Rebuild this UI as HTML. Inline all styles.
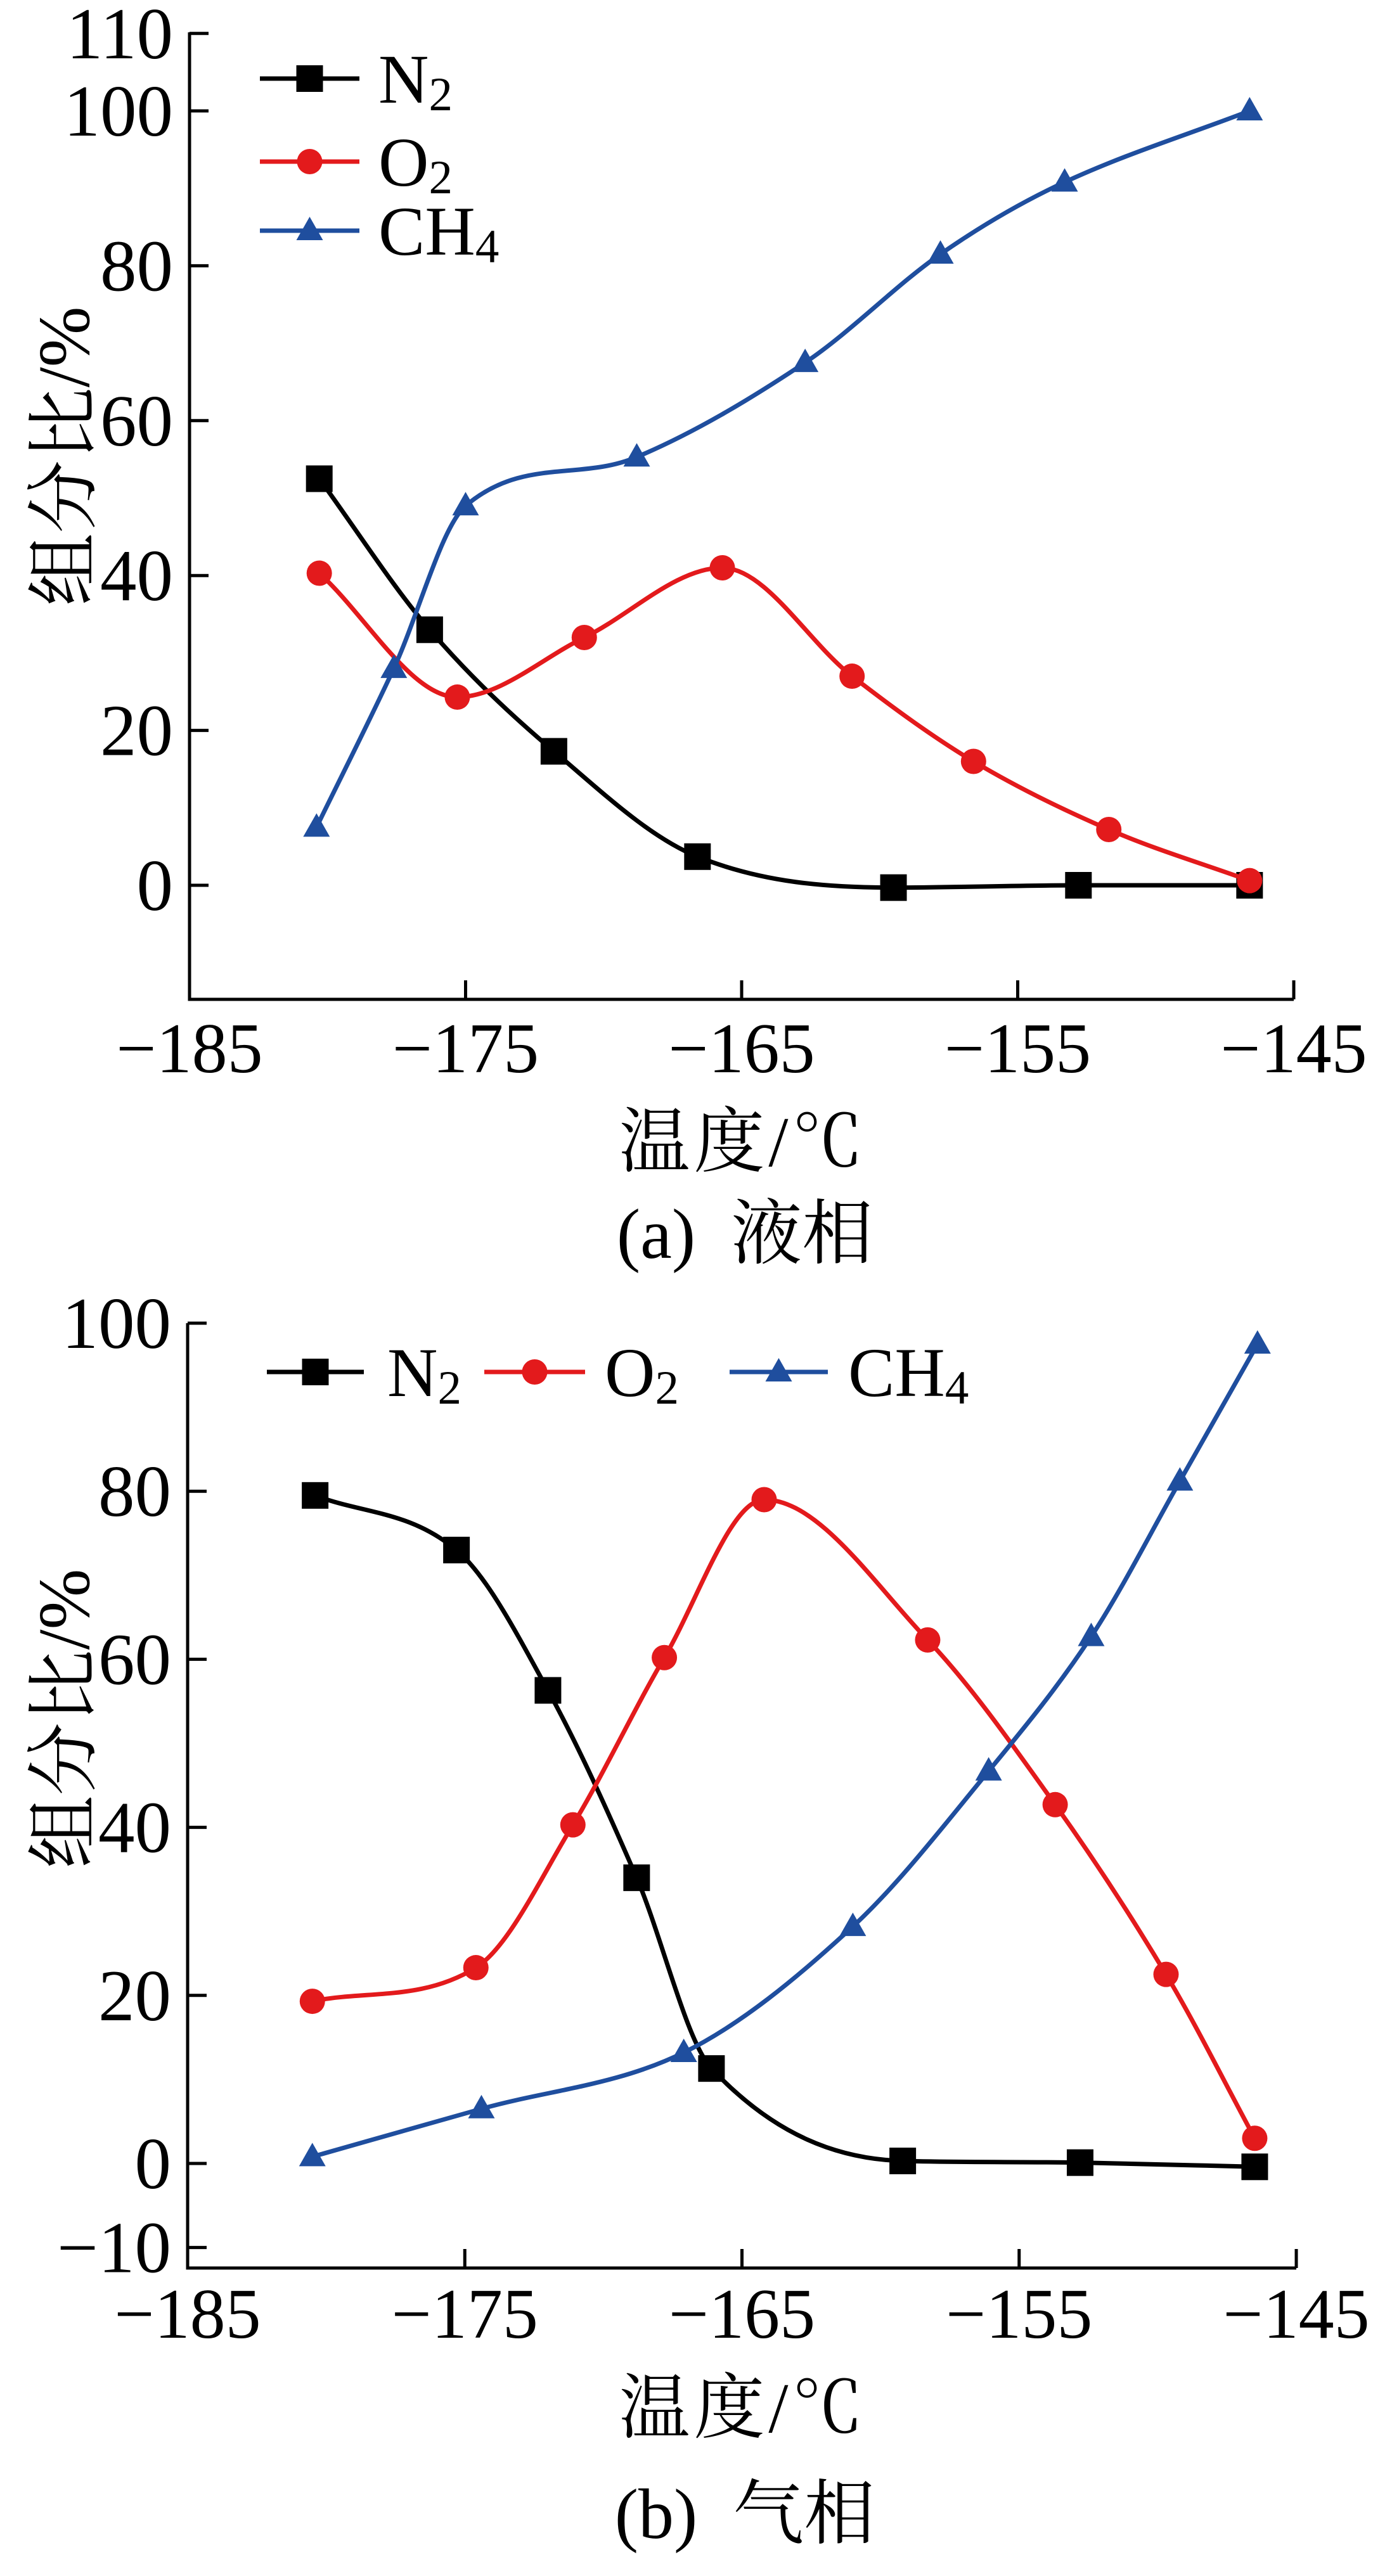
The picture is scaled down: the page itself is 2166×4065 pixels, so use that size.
<!DOCTYPE html>
<html><head><meta charset="utf-8"><style>
html,body{margin:0;padding:0;background:#fff;}
svg{display:block;}
text{font-family:"Liberation Serif","Noto Serif CJK SC","Noto Sans CJK SC",serif;fill:#000;}
</style></head><body>
<svg id="svg" width="2166" height="4065" viewBox="0 0 2166 4065" xmlns="http://www.w3.org/2000/svg"></svg>
<script>
// Chart (a) liquid phase data
const aN2x=[-180.3,-176.3,-171.8,-166.6,-159.5,-152.8,-146.6];
const aN2y=[52.5,33,17.3,3.7,-0.3,0,0];
const aO2x=[-180.3,-175.3,-170.7,-165.7,-161,-156.6,-151.7,-146.6];
const aO2y=[40.3,24.3,32,41,27,16,7.2,0.6];
const aCH4x=[-180.4,-177.6,-175,-168.8,-162.7,-157.8,-153.3,-146.6];
const aCH4y=[7.5,28,49,55.3,67.5,81.5,90.8,100];
const aYTicks=[0,20,40,60,80,100,110];
// Chart (b) vapor phase data
const bN2x=[-180.4,-175.3,-172,-168.8,-166.1,-159.2,-152.8,-146.5];
const bN2y=[79.5,73,56.3,34,11.3,0.3,0.1,-0.4];
const bO2x=[-180.5,-174.6,-171.1,-167.8,-164.2,-158.3,-153.7,-149.7,-146.5];
const bO2y=[19.3,23.3,40.3,60.2,79,62.3,42.7,22.5,3];
const bCH4x=[-180.5,-174.4,-167.1,-161,-156.1,-152.4,-149.2,-146.4];
const bCH4y=[0.8,6.5,13.2,28.2,46.7,62.7,81.2,97.5];
const bYTicks=[-10,0,20,40,60,80,100];
const xTicks=[-185,-175,-165,-155,-145];

const NS="http://www.w3.org/2000/svg";
const svg=document.getElementById('svg');
function el(tag,attrs,parent){const e=document.createElementNS(NS,tag);for(const k in attrs)e.setAttribute(k,attrs[k]);(parent||svg).appendChild(e);return e;}
function curve(pts){
  const n=pts.length,m=[];
  for(let i=0;i<n;i++){
    const a=pts[Math.max(0,i-1)],b=pts[Math.min(n-1,i+1)];
    let s=(b[1]-a[1])/(b[0]-a[0]);
    if(i>0&&i<n-1){
      const d1=(pts[i][1]-pts[i-1][1]),d2=(pts[i+1][1]-pts[i][1]);
      if(d1*d2<=0)s=0;
      else{
        const s1=d1/(pts[i][0]-pts[i-1][0]),s2=d2/(pts[i+1][0]-pts[i][0]);
        const lim=3*Math.min(Math.abs(s1),Math.abs(s2));
        if(Math.abs(s)>lim)s=Math.sign(s)*lim;
      }
    }
    m.push(s);
  }
  let d=`M${pts[0][0]},${pts[0][1]}`;
  for(let i=0;i<n-1;i++){
    const h=(pts[i+1][0]-pts[i][0])/3;
    d+=`C${pts[i][0]+h},${pts[i][1]+m[i]*h} ${pts[i+1][0]-h},${pts[i+1][1]-m[i+1]*h} ${pts[i+1][0]},${pts[i+1][1]}`;
  }
  return d;
}
function marker(g,type,x,y,color){
  let m;
  if(type==='sq'){m=el('rect',{x:x-21,y:y-21,width:42,height:42,fill:color},g);}
  else if(type==='ci'){m=el('circle',{cx:x,cy:y,r:20,fill:color},g);}
  else {m=el('polygon',{points:`${x},${y-22} ${x-21},${y+15} ${x+21},${y+15}`,fill:color},g);}
  
  
}
function chart(cfg){
  const g=el('g',{});
  
  
  const X=v=>cfg.x0+(v-(-185))/40*(cfg.x1-cfg.x0);
  const Y=v=>cfg.y0-v*cfg.py;
  const ax=el('path',{d:`M${cfg.x0},${cfg.top} L${cfg.x0},${cfg.bottom} L${cfg.x1},${cfg.bottom}`,stroke:'#000','stroke-width':5,fill:'none'},g);
  
  
  cfg.yt.forEach(v=>{
    const t=el('line',{x1:cfg.x0,x2:cfg.x0+30,y1:Y(v),y2:Y(v),stroke:'#000','stroke-width':5},g);
    
    
    const l=el('text',{x:cfg.x0-26,y:Y(v)+39,'font-size':115,'text-anchor':'end'},g);
    l.textContent=v<0?'\u2212'+(-v):String(v);
    
    
  });
  xTicks.forEach(v=>{
    const t=el('line',{x1:X(v),x2:X(v),y1:cfg.bottom,y2:cfg.bottom-30,stroke:'#000','stroke-width':5},g);
    
    
    const l=el('text',{x:X(v),y:cfg.xlb,'font-size':112,'text-anchor':'middle'},g);
    l.textContent='\u2212'+(-v);
    
    
  });
  cfg.series.forEach(s=>{
    const pts=s.x.map((v,i)=>[X(v),Y(s.y[i])]);
    const p=el('path',{d:curve(pts),stroke:s.c,'stroke-width':7,fill:'none'},g);
    
    
    pts.forEach(q=>marker(g,s.m,q[0],q[1],s.c));
  });
  cfg.legend.forEach((L,i)=>{
    const ln=el('line',{x1:L.lx1,x2:L.lx2,y1:L.y,y2:L.y,stroke:L.c,'stroke-width':7},g);
    
    
    marker(g,L.m,(L.lx1+L.lx2)/2,L.y,L.c);
    const t=el('text',{x:L.tx,y:L.y+38,'font-size':110},g);
    
    
    t.innerHTML=L.t;
  });
  const yt=el('text',{x:0,y:0,'font-size':115,'text-anchor':'middle',transform:`translate(${cfg.ytx},${cfg.yty}) rotate(-90)`},g);
  yt.textContent='组分比/%';
  
  
  const xt=el('text',{x:1172,y:cfg.xtb,'font-size':112,'text-anchor':'middle','letter-spacing':6},g);
  xt.textContent='温度/℃';
  
  
  const cp=el('text',{x:1175,y:cfg.capb,'font-size':112,'text-anchor':'middle'},g);
  cp.textContent=cfg.cap;
  
  
}
const sub=(a,b)=>`${a}<tspan font-size="75" dy="12">${b}</tspan>`;
chart({name:'chart-liquid',x0:299,x1:2041,y0:1397,py:12.22,top:51,bottom:1577,xlb:1692,yt:aYTicks,
  ytx:140,yty:720,xtb:1840,capb:1985,cap:'(a)\u00a0\u00a0液相',
  series:[{n:'n2',x:aN2x,y:aN2y,c:'#000',m:'sq'},{n:'o2',x:aO2x,y:aO2y,c:'#e31a1c',m:'ci'},{n:'ch4',x:aCH4x,y:aCH4y,c:'#1f4e9e',m:'tr'}],
  legend:[{lx1:410,lx2:567,y:124,c:'#000',m:'sq',tx:597,t:sub('N','2')},
          {lx1:410,lx2:567,y:255,c:'#e31a1c',m:'ci',tx:597,t:sub('O','2')},
          {lx1:410,lx2:567,y:364,c:'#1f4e9e',m:'tr',tx:597,t:sub('CH','4')}]});
chart({name:'chart-vapor',x0:296,x1:2045,y0:3414,py:13.26,top:2088,bottom:3579,xlb:3689,yt:bYTicks,
  ytx:140,yty:2712,xtb:3838,capb:4005,cap:'(b)\u00a0\u00a0气相',
  series:[{n:'n2',x:bN2x,y:bN2y,c:'#000',m:'sq'},{n:'o2',x:bO2x,y:bO2y,c:'#e31a1c',m:'ci'},{n:'ch4',x:bCH4x,y:bCH4y,c:'#1f4e9e',m:'tr'}],
  legend:[{lx1:421,lx2:574,y:2165,c:'#000',m:'sq',tx:611,t:sub('N','2')},
          {lx1:764,lx2:923,y:2165,c:'#e31a1c',m:'ci',tx:954,t:sub('O','2')},
          {lx1:1151,lx2:1306,y:2165,c:'#1f4e9e',m:'tr',tx:1338,t:sub('CH','4')}]});
</script>
</body></html>
